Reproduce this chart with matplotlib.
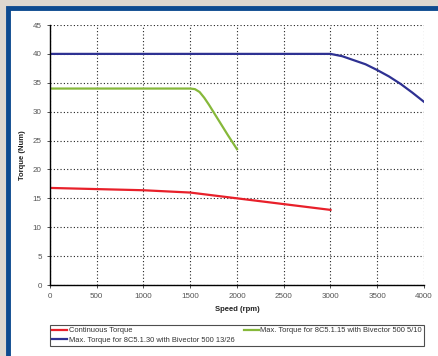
import matplotlib
matplotlib.use("Agg")
import matplotlib.pyplot as plt
from matplotlib.patches import Rectangle

plt.rcParams['font.family'] = ['Liberation Sans', 'DejaVu Sans']

# continuous torque curve
cont_speed = [0, 500, 1000, 1500, 1750, 2000, 2500, 3000]
cont_torque = [16.8, 16.6, 16.4, 16.0, 15.5, 15.0, 14.0, 13.0]

# max torque, 8C5.1.15 with Bivector 500 5/10
small_speed = [0, 1500, 1550, 1600, 1650, 1700, 1800, 1900, 2000]
small_torque = [34.0, 34.0, 33.9, 33.4, 32.4, 31.2, 28.6, 26.0, 23.5]

# max torque, 8C5.1.30 with Bivector 500 13/26
big_speed = [0, 3000, 3125, 3250, 3375, 3500, 3625, 3750, 3875, 4000]
big_torque = [40.0, 40.0, 39.6, 38.9, 38.2, 37.2, 36.1, 34.8, 33.3, 31.7]

x_ticks = [0, 500, 1000, 1500, 2000, 2500, 3000, 3500, 4000]
y_ticks = [0, 5, 10, 15, 20, 25, 30, 35, 40, 45]

fig = plt.figure(figsize=(4.39, 3.56), dpi=100)
fig.patch.set_facecolor('#ddd7cf')

# white panel with blue frame, kept behind the axes
fig.patches.append(Rectangle((8 / 439, -0.1), 1.2, 1 - 8 / 356 + 0.1,
                             transform=fig.transFigure, facecolor='white',
                             edgecolor='#0d4a8f', linewidth=3.5, zorder=-5))

ax = fig.add_axes([50 / 439, 1 - 285 / 356, 374 / 439, 260 / 356])
ax.set_facecolor('none')

l1, = ax.plot(cont_speed, cont_torque, color='#e8202a', lw=1.6,
              label='Continuous Torque', solid_joinstyle='round')
l2, = ax.plot(big_speed, big_torque, color='#2e3192', lw=1.6,
              label='Max. Torque for 8C5.1.30 with Bivector 500 13/26',
              solid_joinstyle='round')
l3, = ax.plot(small_speed, small_torque, color='#86b83a', lw=1.6,
              label='Max. Torque for 8C5.1.15 with Bivector 500 5/10',
              solid_joinstyle='round')

ax.set_xlim(0, 4000)
ax.set_ylim(0, 45)
ax.set_xticks(x_ticks)
ax.set_yticks(y_ticks)
ax.set_axisbelow(True)
ax.grid(True, color='#222222', linestyle=(0, (1, 2)), linewidth=0.8)
for side in ['top', 'right']:
    ax.spines[side].set_visible(False)
for side in ['left', 'bottom']:
    ax.spines[side].set_linewidth(1.0)
ax.tick_params(labelsize=5.8, length=2, width=0.6, colors='#333333',
               labelcolor='#555555', pad=4)

ax.set_xlabel('Speed (rpm)', fontsize=5.5, fontweight='bold', labelpad=4,
              color='#222222')
ax.set_ylabel('Torque (Num)', fontsize=5.5, fontweight='bold', labelpad=5,
              color='#222222')

leg = fig.legend(handles=[l1, l2, l3], ncol=2, mode='expand',
                 loc='lower left',
                 bbox_to_anchor=(50 / 439, 1 - 346 / 356, 374 / 439, 23 / 356),
                 fontsize=5.4, frameon=True, fancybox=False,
                 edgecolor='#222222', borderpad=0.3, handlelength=2.0,
                 handletextpad=0.2, labelspacing=0.3, borderaxespad=0)
leg.get_frame().set_linewidth(0.8)
for t in leg.get_texts():
    t.set_color('#333333')

fig.savefig('out.png', dpi=100, facecolor=fig.get_facecolor())
